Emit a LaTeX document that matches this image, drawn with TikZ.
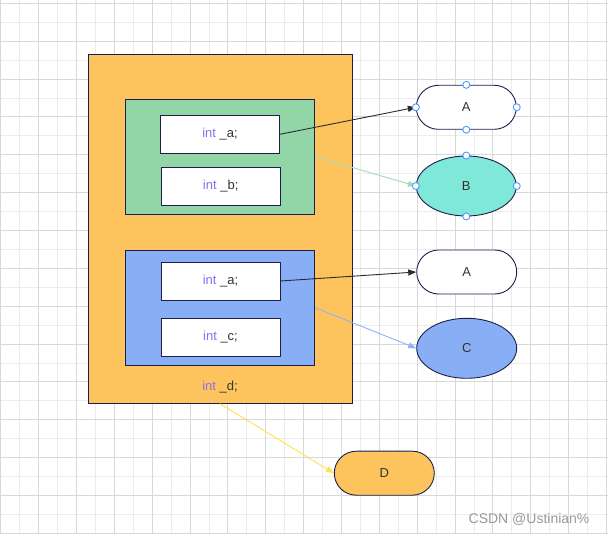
\documentclass[tikz,border=0pt]{standalone}
\usepackage{fontspec}
\setmainfont{Liberation Sans}
\usepackage{tikz}
\usetikzlibrary{positioning,arrows.meta,shapes.geometric}
\usepackage{xcolor}
\definecolor{gridmaj}{HTML}{D8D8D8}
\definecolor{gridmin}{HTML}{ECECEC}
\definecolor{edge}{HTML}{1C1F4E}
\definecolor{orangefill}{HTML}{FDC45E}
\definecolor{greenfill}{HTML}{92D6A8}
\definecolor{bluefill}{HTML}{88AFF5}
\definecolor{tealfill}{HTML}{80E8D8}
\definecolor{intpurple}{HTML}{8A6EF2}
\definecolor{txtgray}{HTML}{333333}
\definecolor{portblue}{HTML}{4D9BFF}
\definecolor{arrgreen}{HTML}{A0DCB4}
\definecolor{arrblue}{HTML}{8DB4F7}
\definecolor{arryellow}{HTML}{FFE14D}
\definecolor{wmgray}{HTML}{9A9A9A}
\newcommand{\kw}[1]{\textcolor{intpurple}{#1}}

\begin{document}
\begin{tikzpicture}[
    x=1pt, y=-1pt,
    every node/.style={font=\fontsize{13}{15}\selectfont, text=txtgray},
    grp/.style={draw=edge, line width=0.9pt, inner sep=0pt},
    field/.style={draw=edge, fill=white, line width=0.9pt, minimum width=119pt, minimum height=38pt, inner sep=0pt},
    pill/.style={draw=edge, line width=0.9pt, rounded corners=22pt, minimum width=100pt, minimum height=44pt, inner sep=0pt},
    oval/.style={draw=edge, line width=0.9pt, ellipse, minimum width=100pt, minimum height=60pt, inner sep=0pt},
    port/.style={circle, draw=portblue, fill=white, line width=0.9pt, minimum size=7pt, inner sep=0pt},
    arr/.style={-{Triangle[length=8pt,width=6pt]}, line width=0.9pt}
]
\useasboundingbox[fill=white] (0,0) rectangle (608,534);

% grid
\foreach \k in {1,3,...,31} \draw[gridmin, line width=0.8pt] ({0.7+18.93*\k},0) -- ({0.7+18.93*\k},534);
\foreach \k in {1,3,...,27} \draw[gridmin, line width=0.8pt] (0,{3.3+18.93*\k}) -- (608,{3.3+18.93*\k});
\foreach \k in {0,2,...,32} \draw[gridmaj, line width=0.8pt] ({0.7+18.93*\k},0) -- ({0.7+18.93*\k},534);
\foreach \k in {0,2,...,28} \draw[gridmaj, line width=0.8pt] (0,{3.3+18.93*\k}) -- (608,{3.3+18.93*\k});

% containers
\node[grp, fill=orangefill, minimum width=264pt, minimum height=349pt] (outer) at (220.3,228.8) {};
\node[grp, fill=greenfill, minimum width=189.4pt, minimum height=114.7pt] (grpb) at (220,156.7) {};
\node[grp, fill=bluefill, minimum width=189.4pt, minimum height=115.3pt] (grpc) at (220,307.7) {};

% fields
\node[field] (fa1) at (220,134.3) {\kw{int} \_a;};
\node[field] (fb) at (220.7,186.3) {\kw{int} \_b;};
\node[field] (fa2) at (220.5,281) {\kw{int} \_a;};
\node[field] (fc) at (220.5,337) {\kw{int} \_c;};
\node (dtxt) at (220,387) {\kw{int} \_d;};

% objects
\node[pill, fill=white] (nodeA1) at (466.3,107.3) {A};
\node[oval, fill=tealfill] (nodeB) at (466.3,186) {B};
\node[pill, fill=white] (nodeA2) at (466.7,272) {A};
\node[oval, fill=bluefill] (nodeC) at (466.7,348.3) {C};
\node[pill, fill=orangefill] (nodeD) at (384.3,473.2) {D};

\coordinate (dsrc) at (dtxt |- outer.south);

\draw[arr, txtgray!85!black] (fa1.east) -- (nodeA1.west);
\draw[arr, arrgreen] (grpb.east) -- (nodeB.west);
\draw[arr, txtgray!85!black] (fa2.east) -- (nodeA2.west);
\draw[arr, arrblue] (grpc.east) -- (nodeC.west);
\draw[arr, arryellow] (dsrc) -- (nodeD.west);

% connection points
\foreach \a in {north,east,south,west} {
  \node[port] (pa-\a) at (nodeA1.\a) {};
  \node[port] (pb-\a) at (nodeB.\a) {};
}

\node[anchor=east, font=\fontsize{14}{16}\selectfont, text=wmgray] (mark) at (593,519) {CSDN @Ustinian\%};
\end{tikzpicture}
\end{document}
